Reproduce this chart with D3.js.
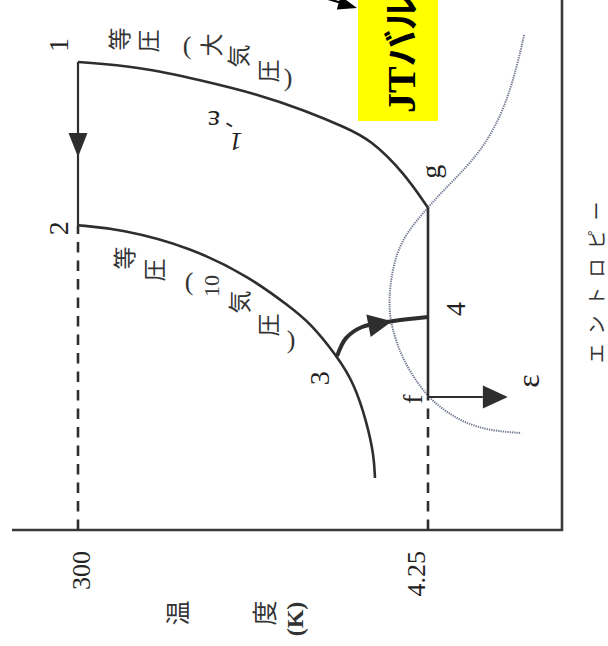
<!DOCTYPE html>
<html>
<head>
<meta charset="utf-8">
<script src="https://cdn.jsdelivr.net/npm/d3@7"></script>
<style>
  html, body { margin: 0; padding: 0; background: #fff; }
  svg { display: block; }
</style>
</head>
<body>
<script>
// Linde–Hampson liquefaction cycle on a T–S diagram (entropy across, temperature
// down the side), laid on the page turned a quarter-turn counter-clockwise.

// Temperature ticks (K)
const tempTicks = [300, 4.25];

// State points: entropy (arbitrary units) and temperature (K)
const pointNames = ["1", "2", "3", "4", "g", "f"];
const pointS = [8.83, 5.75, 3.28, 4.02, 6.08, 2.51];
const pointT = [300, 300, 12.85, 4.25, 4.25, 4.25];

// 1 atm isobar, from 1 down to saturated vapour g
const isobar1S = [8.83, 8.74, 8.49, 8.21, 7.92, 7.60, 7.36, 6.74, 6.08];
const isobar1T = [300, 141.1, 68.0, 32.8, 19.2, 11.66, 8.50, 5.69, 4.25];

// 10 atm isobar, from 2 through 3
const isobar10S = [5.75, 5.68, 5.34, 4.77, 4.21, 3.91, 3.28, 2.77, 2.02, 1.40, 0.98];
const isobar10T = [300, 180.0, 76.8, 37.0, 22.8, 17.85, 12.85, 10.45, 8.92, 8.20, 8.10];

// Saturation dome (vapour side, critical region, liquid side)
const domeS = [9.34, 8.74, 7.92, 7.23, 6.74, 6.36, 6.08, 5.72, 5.28, 4.66, 4.15, 3.81, 3.34, 2.92, 2.51, 2.26, 2.02, 1.87, 1.83];
const domeT = [1.32, 1.44, 1.69, 2.15, 2.84, 3.63, 4.25, 5.23, 6.20, 6.75, 6.83, 6.58, 5.97, 5.16, 4.25, 3.50, 2.74, 1.97, 1.37];

// Joule–Thomson expansion path 3 -> 4
const jtS = [3.28, 3.62, 3.83, 3.94, 4.02];
const jtT = [12.85, 11.52, 9.48, 6.58, 4.25];

// Liquid fraction arrow leaving f (temperature at arrow base and tip)
const epsArrowT = [2.18, 1.61];
// Direction arrow on the 300 K compression 1 -> 2 (entropy at base and tip)
const compArrowS = [7.49, 7.04];

const W = 608, H = 646;
const INK = "#2e2e2e";
const CJK = "'Noto Sans CJK JP', sans-serif";
const SERIF = "'Liberation Serif', 'DejaVu Serif', serif";

const svg = d3.select("body").append("svg").attr("width", W).attr("height", H);
// drawing space: u = entropy (left to right), v = temperature (top to bottom)
const g = svg.append("g").attr("transform", `translate(0,${H}) rotate(-90)`);

const sScale = d3.scaleLinear().domain([0, 10]).range([116, 646]);
const tScale = d3.scaleLog().domain([300, 4.25]).range([78, 428]);

const zip = (a, b) => a.map((v, i) => [v, b[i]]);
const pt = i => [sScale(pointS[i]), tScale(pointT[i])];
const smooth = d3.line()
  .x(d => sScale(d[0])).y(d => tScale(d[1]))
  .curve(d3.curveBasis);
const through = d3.line()
  .x(d => sScale(d[0])).y(d => tScale(d[1]))
  .curve(d3.curveCatmullRom.alpha(0.5));

function arrowHead(tip, from, len, half) {
  const dx = tip[0] - from[0], dy = tip[1] - from[1];
  const L = Math.hypot(dx, dy), ux = dx / L, uy = dy / L;
  const bx = tip[0] - ux * len, by = tip[1] - uy * len;
  return `M${tip[0]},${tip[1]}L${bx - uy * half},${by + ux * half}L${bx + uy * half},${by - ux * half}Z`;
}

// ---- frame: temperature axis and entropy axis
const s0 = sScale(0);
g.append("line").attr("x1", s0).attr("x2", s0).attr("y1", 12).attr("y2", 563)
  .attr("stroke", "#3a3a3a").attr("stroke-width", 2.6);
g.append("line").attr("x1", s0 - 1).attr("x2", H).attr("y1", 562).attr("y2", 562)
  .attr("stroke", "#3a3a3a").attr("stroke-width", 2.6);

const tAxis = g.append("g").attr("transform", `translate(${s0},0)`)
  .call(d3.axisLeft(tScale).tickValues(tempTicks).tickSize(0).tickPadding(21)
    .tickFormat(d => String(d)));
tAxis.select(".domain").remove();
tAxis.selectAll("text")
  .attr("font-family", SERIF).attr("font-size", 26).attr("fill", "#222")
  .attr("dy", null).attr("dominant-baseline", "central")
  .attr("y", d => d === 4.25 ? -12 : 3);

// axis titles
g.append("text").attr("x", 33).attr("y", 176).text("温")
  .attr("font-family", CJK).attr("font-size", 25).attr("fill", "#333")
  .attr("text-anchor", "middle").attr("dominant-baseline", "central");
g.append("text").attr("x", 33).attr("y", 263).text("度")
  .attr("font-family", CJK).attr("font-size", 25).attr("fill", "#333")
  .attr("text-anchor", "middle").attr("dominant-baseline", "central");
g.append("text").attr("x", 27).attr("y", 295).text("(K)")
  .attr("font-family", SERIF).attr("font-weight", "bold").attr("font-size", 24).attr("fill", "#333")
  .attr("text-anchor", "middle").attr("dominant-baseline", "central");
g.append("text").attr("x", 283).attr("y", 595).text("エントロピー")
  .attr("font-family", CJK).attr("font-size", 19).attr("fill", "#333")
  .attr("letter-spacing", 9.5).attr("dominant-baseline", "central");

// ---- dashed guides down to the temperature axis
[1, 5].forEach(i => {
  const p = pt(i);
  g.append("line").attr("x1", s0).attr("x2", p[0]).attr("y1", p[1]).attr("y2", p[1])
    .attr("stroke", INK).attr("stroke-width", 2.6).attr("stroke-dasharray", "10.5,8");
});

// ---- saturation dome
g.append("path").attr("d", smooth(zip(domeS, domeT)))
  .attr("fill", "none").attr("stroke", "#737a94").attr("stroke-width", 2)
  .attr("stroke-dasharray", "1.3,1");

// ---- isobars
g.append("path").attr("d", smooth(zip(isobar1S, isobar1T)))
  .attr("fill", "none").attr("stroke", INK).attr("stroke-width", 2.6);
g.append("path").attr("d", smooth(zip(isobar10S, isobar10T)))
  .attr("fill", "none").attr("stroke", INK).attr("stroke-width", 2.6);

// ---- 1 -> 2 isothermal compression
const p1 = pt(0), p2 = pt(1);
g.append("line").attr("x1", p1[0]).attr("x2", p2[0]).attr("y1", p1[1]).attr("y2", p2[1])
  .attr("stroke", INK).attr("stroke-width", 2.2);
g.append("path")
  .attr("d", arrowHead([sScale(compArrowS[1]), tScale(300)], [sScale(compArrowS[0]), tScale(300)],
    sScale(compArrowS[0]) - sScale(compArrowS[1]), 9.5))
  .attr("fill", INK);

// ---- g -> f at 4.25 K
const pg = pt(4), pf = pt(5);
g.append("line").attr("x1", pg[0]).attr("x2", pf[0]).attr("y1", pg[1]).attr("y2", pf[1])
  .attr("stroke", INK).attr("stroke-width", 2.6);

// ---- JT expansion 3 -> 4
const jtPts = zip(jtS, jtT);
g.append("path").attr("d", through(jtPts))
  .attr("fill", "none").attr("stroke", INK).attr("stroke-width", 4);
const jtTip = [sScale(jtS[3]), tScale(jtT[3])];
const jtPrev = [sScale(jtS[2]), tScale(jtT[2])];
g.append("path").attr("d", arrowHead(jtTip, jtPrev, 24, 11.5)).attr("fill", INK);

// ---- liquid fraction ε leaving f
g.append("line").attr("x1", pf[0]).attr("x2", pf[0])
  .attr("y1", pf[1]).attr("y2", tScale(epsArrowT[0]))
  .attr("stroke", INK).attr("stroke-width", 2);
g.append("path")
  .attr("d", arrowHead([pf[0], tScale(epsArrowT[1])], [pf[0], tScale(epsArrowT[0])],
    tScale(epsArrowT[1]) - tScale(epsArrowT[0]), 11.5))
  .attr("fill", INK);

// ---- state point labels
const labelOffset = { "1": [17, -20], "2": [-3, -20], "3": [-22, -18], "4": [8, 27], "g": [36, 2], "f": [-2, -16] };
pointNames.forEach((name, i) => {
  const p = pt(i), o = labelOffset[name];
  g.append("text").attr("x", p[0] + o[0]).attr("y", p[1] + o[1]).text(name)
    .attr("font-family", SERIF).attr("font-size", 28).attr("fill", "#222")
    .attr("text-anchor", "middle").attr("dominant-baseline", "central");
});
g.append("text").attr("x", pf[0] + 16).attr("y", pf[1] + 100).text("ε")
  .attr("font-family", SERIF).attr("font-size", 32).attr("fill", "#222")
  .attr("text-anchor", "middle").attr("dominant-baseline", "central");

// return-gas fraction 1-ε, printed upside down beside the 1 atm isobar
[["ε", 525, 214, 270, 30, "normal"], ["-", 519, 228, 300, 24, "normal"], ["1", 505, 236, 270, 26, "italic"]]
  .forEach(([ch, u, v, r, fs, st]) => {
    g.append("text").attr("transform", `translate(${u},${v}) rotate(${r})`).text(ch)
      .attr("font-family", SERIF).attr("font-size", fs).attr("font-style", st).attr("fill", "#222")
      .attr("text-anchor", "middle").attr("dominant-baseline", "central");
  });

// ---- isobar captions, set vertically down the curves
const capUpper = [["等", 607, 118], ["圧", 605, 147], ["(", 601, 187], ["大", 601, 210], ["気", 590, 237], ["圧", 575, 267], [")", 569, 288]];
const capLower = [["等", 388, 123], ["圧", 376, 153], ["(", 365, 189], ["10", 360, 211], ["気", 344, 238], ["圧", 321, 267], [")", 307, 291]];
[capUpper, capLower].forEach(cap => cap.forEach(([ch, u, v]) => {
  const paren = ch === "(" || ch === ")";
  const isNum = /\d/.test(ch);
  g.append("text").attr("transform", `translate(${u},${v})` + (paren ? " rotate(90)" : ""))
    .text(ch)
    .attr("font-family", isNum || paren ? SERIF : CJK)
    .attr("font-size", isNum ? 22 : paren ? 26 : 23)
    .attr("fill", "#333")
    .attr("text-anchor", "middle").attr("dominant-baseline", "central");
}));

// ---- JT valve call-out
const box = g.append("g");
box.append("rect").attr("x", 525).attr("y", 358).attr("width", 140).attr("height", 80).attr("fill", "#ffff00");
const jtText = box.append("text").attr("x", 533).attr("y", 415).attr("fill", "#000");
jtText.append("tspan").text("JT").attr("font-family", SERIF).attr("font-size", 40).attr("font-weight", "bold");
jtText.append("tspan").text("バルブ").attr("font-family", CJK).attr("font-size", 36).attr("font-weight", "bold");
box.append("line").attr("x1", 650).attr("y1", 318).attr("x2", 642).attr("y2", 345)
  .attr("stroke", "#000").attr("stroke-width", 2.2);
box.append("path").attr("d", arrowHead([638, 357], [648, 322], 19, 7)).attr("fill", "#000");
</script>
</body>
</html>
